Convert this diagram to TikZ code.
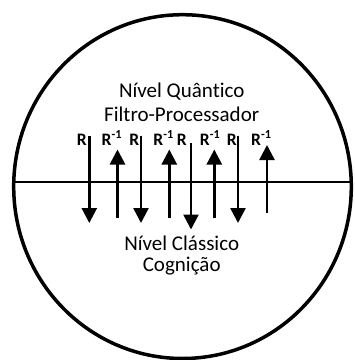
\documentclass[tikz,border=0pt]{standalone}
\usepackage{fontspec}
\setmainfont[Ligatures={NoCommon,NoContextual}]{Carlito}
\usetikzlibrary{arrows.meta}
\begin{document}
\begin{tikzpicture}[x=1pt,y=-1pt,
  bigtxt/.style={font=\fontsize{21}{23}\selectfont, anchor=base, inner sep=0pt},
  rlbl/.style={font=\fontsize{17.5}{19}\selectfont\bfseries, inner sep=0pt},
  flow/.style={line width=2.6pt, -{Triangle[width=15pt,length=15pt]}},
  rim/.style={line width=3.5pt},
  divider/.style={line width=1.4pt}]
\useasboundingbox (0,0) rectangle (355,360);
\draw[rim] (182.5,186.6) ellipse [x radius=168.8, y radius=171.9];
\coordinate (lineL) at (14,182);
\coordinate (lineR) at (351,182);
\draw[divider] (lineL) -- (lineR);
% texts
\node[bigtxt] (q1) at (181.7,97.7) {Nível Quânt\kern0pt ico};
\node[bigtxt] (q2) at (181.7,121) {Filtro-Processador};
\node[bigtxt] (c1) at (181.7,250) {Nível Clássico};
\node[bigtxt] (c2) at (181.7,271.7) {Cognição};
% down arrows (R)
\coordinate (d1s) at (89.3,135.5);  \coordinate (d1e) at (89.3,223);
\coordinate (d2s) at (141,135.5);   \coordinate (d2e) at (141,223);
\coordinate (d3s) at (191,143);     \coordinate (d3e) at (191,229.5);
\coordinate (d4s) at (238,135.5);   \coordinate (d4e) at (238,223);
\draw[flow] (d1s) -- (d1e);
\draw[flow] (d2s) -- (d2e);
\draw[flow] (d3s) -- (d3e);
\draw[flow] (d4s) -- (d4e);
% up arrows (R^-1)
\coordinate (u1s) at (117.5,218); \coordinate (u1e) at (117.5,149.5);
\coordinate (u2s) at (169.3,218); \coordinate (u2e) at (169.3,149.5);
\coordinate (u3s) at (214.3,218); \coordinate (u3e) at (214.3,149.5);
\coordinate (u4s) at (267,212.5); \coordinate (u4e) at (267,145);
\draw[flow] (u1s) -- (u1e);
\draw[flow] (u2s) -- (u2e);
\draw[flow] (u3s) -- (u3e);
\draw[flow] (u4s) -- (u4e);
% labels
\node[rlbl, anchor=base east] (r1) at (87,145) {R};
\node[rlbl, anchor=base east] (r2) at (139.5,145) {R};
\node[rlbl, anchor=base east] (r3) at (187,145) {R};
\node[rlbl, anchor=base east] (r4) at (237,145) {R};
\node[rlbl, anchor=base west] (ri1) at (101.5,145) {R\textsuperscript{-1}};
\node[rlbl, anchor=base west] (ri2) at (153.2,145) {R\textsuperscript{-1}};
\node[rlbl, anchor=base west] (ri3) at (199.8,145) {R\textsuperscript{-1}};
\node[rlbl, anchor=base west] (ri4) at (251,145) {R\textsuperscript{-1}};
\end{tikzpicture}
\end{document}
